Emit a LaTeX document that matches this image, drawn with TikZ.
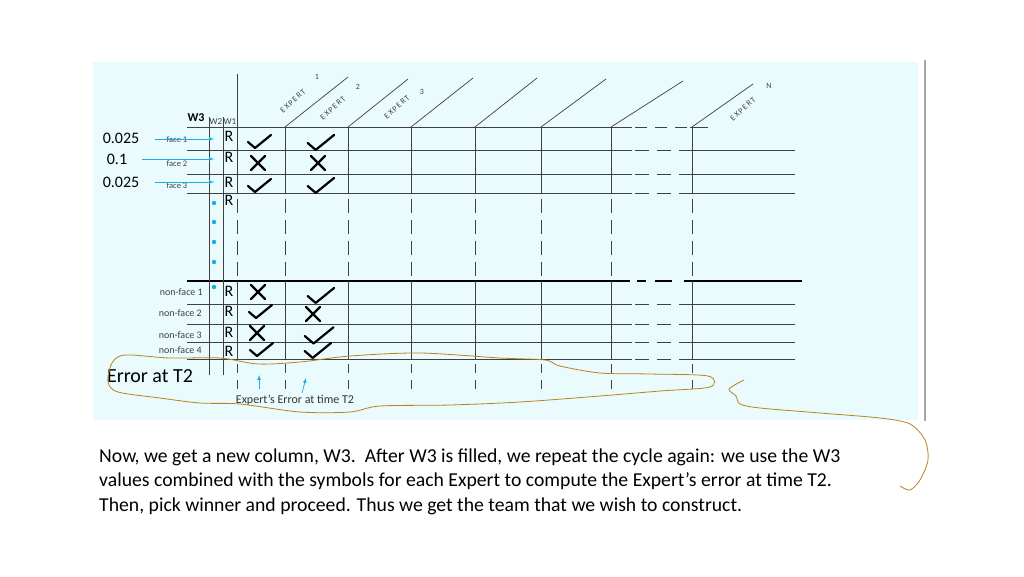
\documentclass[tikz,border=0pt]{standalone}
\usepackage{fontspec}
\setmainfont{Carlito}
\definecolor{panel}{RGB}{233,251,253}
\definecolor{cyanA}{RGB}{30,170,230}
\definecolor{loopc}{RGB}{185,130,30}
\begin{document}
\begin{tikzpicture}[x=1pt,y=-1pt,
  grid/.style={draw=black!75,line width=0.7pt},
  symb/.style={line width=2.2pt,line cap=round,line join=round},
  lab/.style={font=\fontsize{10}{11}\selectfont,text=black!75,inner sep=1pt},
  big/.style={font=\fontsize{16}{18}\selectfont,inner sep=1pt},
  cy/.style={draw=cyanA,line width=0.7pt,-latex},
  loop/.style={draw=loopc,line width=0.8pt}]
\useasboundingbox (0,0) rectangle (1024,576);
\fill[white] (0,0) rectangle (1024,576);
\fill[panel] (93,62) rectangle (918,420);
\draw[black!35,line width=1.2pt] (925,60) -- (925,421);
% horizontal lines
\foreach \y in {150,174,193,304,324,342,359}{
  \draw[grid] (187,\y) -- (632,\y);
  \draw[grid,dash pattern=on 14pt off 8pt] (635,\y) -- (690,\y);
  \draw[grid] (690,\y) -- (795,\y);}
\draw[grid] (187,127) -- (632,127);
\draw[grid,dash pattern=on 12pt off 8pt] (635,127) -- (690,127);
\draw[grid] (690,127) -- (708,127);
\draw[black,line width=2.5pt] (187,281) -- (630,281);
\draw[black,line width=2.5pt] (637,281) -- (646,281);
\draw[black,line width=2.5pt] (655,281) -- (672,281);
\draw[black,line width=2.5pt] (684,281) -- (802,281);
% W2 W1 lines
\draw[grid] (209,117) -- (209,375);
\draw[grid] (223,117) -- (223,375);
% column lines
\draw[grid] (237,74) -- (237,127);
\foreach \x/\dx/\dy in {237/0/0,285/63/50,348/60/48,411/62/49,475/62/49,541/65/48,611/72/46,692/61/43}{
  \ifnum\dx>0 \draw[grid] (\x,127) -- ++(\dx,-\dy);\fi
  \draw[grid] (\x,127) -- (\x,193);
  \draw[grid,dash pattern=on 14pt off 7pt] (\x,199) -- (\x,276);
  \draw[grid] (\x,281) -- (\x,359);
  \draw[grid,dash pattern=on 9pt off 7pt] (\x,364) -- (\x,396);}
% header labels
\node[font=\bfseries\fontsize{12}{13}\selectfont,inner sep=1pt] (w3) at (196,118) {W3};
\node[lab,font=\fontsize{9}{10}\selectfont] (w2) at (216,122) {W2};
\node[lab,font=\fontsize{9}{10}\selectfont] (w1) at (230,122) {W1};
\foreach \x/\y/\n/\nx/\ny [count=\i] in {293/101/1/317/77,333/108/2/358/87,397/107/3/422/92,743/109/N/769/86}{
  \node[lab,rotate=42,font=\fontsize{8}{9}\selectfont] (ex\i) at (\x,\y) {E\,X\,P\,E\,R\,T};
  \node[lab,font=\fontsize{8}{9}\selectfont] (en\i) at (\nx,\ny) {\n};}
% left values
\node[big] (v1) at (121,138) {0.025};
\node[big] (v2) at (117,159) {0.1};
\node[big] (v3) at (121,182) {0.025};
\node[lab,font=\fontsize{8.5}{9}\selectfont] (f1) at (177,140) {face 1};
\node[lab,font=\fontsize{8.5}{9}\selectfont] (f2) at (177,164) {face 2};
\node[lab,font=\fontsize{8.5}{9}\selectfont] (f3) at (177,186) {face 3};
\coordinate (a1) at (155,139); \coordinate (b1) at (214,139);
\coordinate (a2) at (142,159); \coordinate (b2) at (214,159);
\coordinate (a3) at (155,182); \coordinate (b3) at (214,182);
\draw[cy] (a1) -- (b1); \draw[cy] (a2) -- (b2); \draw[cy] (a3) -- (b3);
\foreach \y [count=\i] in {136,157,182,200,291,311,332,351}{\node[big] (r\i) at (229,\y) {R};}
\foreach \y in {203,222,242,262,287}{\fill[cyanA] (214,\y) circle (2.2pt);}
\node[lab] (n1) at (204,292) [anchor=east] {non-face 1};
\node[lab] (n2) at (203,313) [anchor=east] {non-face 2};
\node[lab] (n3) at (203,335) [anchor=east] {non-face 3};
\node[lab] (n4) at (203,350) [anchor=east] {non-face 4};
% checks and crosses
\newcommand{\chk}[3]{\draw[symb] (#1-#3*9,#2-#3*0) -- (#1-#3*2,#2+#3*6) -- (#1+#3*14,#2-#3*7);}
\newcommand{\crs}[2]{\draw[symb] (#1-7,#2-7) -- (#1+7,#2+7) (#1-7,#2+7) -- (#1+7,#2-7);}
\chk{257}{142}{1} \crs{258}{163} \chk{257}{186}{1}
\chk{318}{143}{1.15} \crs{318}{163} \chk{318}{186}{1.15}
\crs{258}{292} \chk{258}{312}{1} \crs{257}{333} \chk{259}{350}{1}
\chk{318}{296}{1.15} \crs{313}{314} \chk{316}{336}{1.25} \chk{315}{351}{1.15}
% bottom labels
\node[font=\fontsize{20}{22}\selectfont,inner sep=1pt] (err) at (150,376) {Error at T2};
\node[lab,font=\fontsize{12}{13}\selectfont,text=black!80] (eet) at (295,400) {Expert’s Error at time T2};
\coordinate (c1) at (259,389); \coordinate (d1) at (259,375);
\coordinate (c2) at (302,393); \coordinate (d2) at (306,378);
\draw[cy] (c1) -- (d1); \draw[cy] (c2) -- (d2);
% freehand loop
\draw[loop] plot[smooth cycle,tension=0.5] coordinates{(710,387)(708,376)(650,374)(600,373)(560,366)(545,360)(500,358)(420,353)(350,356)(300,362)(258,364)(220,358)(170,358)(125,355)(112,363)(108,382)(118,392)(160,398)(200,403)(240,404)(300,412)(350,412)(380,406)(450,405)(520,402)(600,396)(660,391)};
\draw[loop] plot[smooth,tension=0.5] coordinates{(744,380)(729,389)(736,396)(740,404)(760,408)(820,413)(880,418)(910,424)(925,440)(928,460)(920,480)(910,490)(900,486)};
% paragraph
\node[anchor=west,font=\fontsize{19.7}{22}\selectfont,inner sep=0pt] (p1) at (99,457) {Now, we get a new column, W3.\ \ After W3 is filled, we repeat the cycle again: we use the W3};
\node[anchor=west,font=\fontsize{19.7}{22}\selectfont,inner sep=0pt] (p2) at (99,481) {values combined with the symbols for each Expert to compute the Expert’s error at time T2.};
\node[anchor=west,font=\fontsize{19.7}{22}\selectfont,inner sep=0pt] (p3) at (99,506) {Then, pick winner and proceed. Thus we get the team that we wish to construct.};
\end{tikzpicture}
\end{document}
